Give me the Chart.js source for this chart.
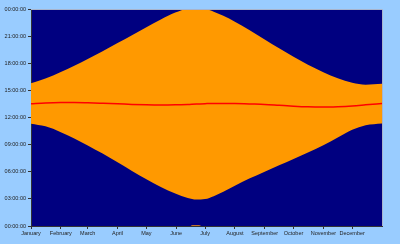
<!DOCTYPE html>
<html>
<head>
<meta charset="utf-8">
<script src="https://cdn.jsdelivr.net/npm/chart.js@4/dist/chart.umd.min.js"></script>
<style>
    html, body { margin: 0; padding: 0; background: #99ccff; }
    #wrap { width: 400px; height: 244px; }
</style>
</head>
<body>
<div id="wrap"><canvas id="sunChart"></canvas></div>
<script>
// Month labels and the day of year each month starts on
const months = ['January', 'February', 'March', 'April', 'May', 'June',
    'July', 'August', 'September', 'October', 'November', 'December'];
const monthStarts = [0, 31, 59, 90, 120, 151, 181, 212, 243, 273, 304, 334];

// Hours shown on the y axis
const hourTicks = [0, 3, 6, 9, 12, 15, 18, 21, 24];

// Day of year for each reading
const days = [0, 15, 31, 45, 59, 74, 90, 105, 120, 135, 150, 163, 172, 181,
    190, 200, 212, 227, 243, 258, 273, 288, 304, 319, 334, 348, 365];

// Sunrise, sunset and solar noon, in hours
const sunrise = [11.32, 11.02, 10.38, 9.68, 8.91, 8.04, 7.05, 6.09, 5.16, 4.32, 3.6, 3.1, 2.92, 2.98,
    3.3, 3.8, 4.46, 5.24, 6.01, 6.72, 7.42, 8.14, 8.94, 9.8, 10.65, 11.15, 11.35];
const sunset = [15.78, 16.3, 17.02, 17.72, 18.46, 19.3, 20.23, 21.11, 21.99, 22.85, 23.6, 24, 24, 24,
    23.7, 23.25, 22.6, 21.67, 20.63, 19.66, 18.71, 17.84, 17.01, 16.33, 15.85, 15.63, 15.72];
const noon = [13.52, 13.6, 13.65, 13.66, 13.63, 13.58, 13.52, 13.45, 13.4, 13.38, 13.4, 13.45, 13.5, 13.53,
    13.55, 13.55, 13.55, 13.5, 13.45, 13.35, 13.25, 13.18, 13.16, 13.2, 13.28, 13.4, 13.55];

// Sunset past midnight (shows as a sliver at the bottom)
const lateDays = [166, 168, 172, 175, 177];
const lateSunset = [0, 0.1, 0.12, 0.1, 0];

function toPoints(xs, ys) {
    return xs.map((x, i) => ({ x: x, y: ys[i] }));
}

function pad2(n) {
    return String(n).padStart(2, '0');
}

// Navy plot area plus light top/right border
const plotBackground = {
    id: 'plotBackground',
    beforeDraw(chart) {
        const { ctx, chartArea: a } = chart;
        ctx.save();
        ctx.fillStyle = '#000080';
        ctx.fillRect(a.left, a.top, a.right - a.left, a.bottom - a.top);
        ctx.restore();
    },
    afterDraw(chart) {
        const { ctx, chartArea: a } = chart;
        ctx.save();
        ctx.strokeStyle = '#a8b4cc';
        ctx.lineWidth = 1;
        ctx.beginPath();
        ctx.moveTo(a.left, a.top + 0.5);
        ctx.lineTo(a.right + 0.5, a.top + 0.5);
        ctx.lineTo(a.right + 0.5, a.bottom);
        ctx.stroke();
        ctx.restore();
    }
};

const tickFont = { family: 'Liberation Sans, Arial, sans-serif', size: 5.5 };

new Chart(document.getElementById('sunChart'), {
    type: 'line',
    data: {
        datasets: [
            {
                label: 'Sunrise',
                data: toPoints(days, sunrise),
                borderWidth: 0,
                borderColor: 'rgba(0,0,0,0)',
                pointRadius: 0,
                fill: false,
                order: 3
            },
            {
                label: 'Sunset',
                data: toPoints(days, sunset),
                borderWidth: 0,
                borderColor: 'rgba(0,0,0,0)',
                backgroundColor: '#ff9900',
                pointRadius: 0,
                fill: '-1',
                order: 2
            },
            {
                label: 'Solar noon',
                data: toPoints(days, noon),
                borderWidth: 1.5,
                borderColor: '#ff0000',
                pointRadius: 0,
                fill: false,
                order: 0
            },
            {
                label: 'Sunset after midnight',
                data: toPoints(lateDays, lateSunset),
                borderWidth: 0,
                borderColor: 'rgba(0,0,0,0)',
                backgroundColor: '#c0702c',
                pointRadius: 0,
                fill: 'origin',
                order: 1
            }
        ]
    },
    options: {
        responsive: true,
        maintainAspectRatio: false,
        animation: false,
        elements: { line: { cubicInterpolationMode: 'monotone' } },
        layout: { padding: { top: 9, right: 18, left: 0, bottom: 0 } },
        plugins: {
            legend: { display: false },
            tooltip: { enabled: false }
        },
        scales: {
            x: {
                type: 'linear',
                min: 0,
                max: 365,
                afterBuildTicks: (scale) => {
                    scale.ticks = monthStarts.map(v => ({ value: v }));
                },
                afterFit: (scale) => { scale.height = 18; },
                ticks: {
                    autoSkip: false,
                    maxRotation: 0,
                    padding: 1,
                    color: '#222',
                    font: tickFont,
                    callback: (v) => months[monthStarts.indexOf(v)]
                },
                grid: { drawOnChartArea: false, tickLength: 3, color: '#333' },
                border: { color: '#333' }
            },
            y: {
                min: 0,
                max: 24,
                afterBuildTicks: (scale) => {
                    scale.ticks = hourTicks.map(v => ({ value: v }));
                },
                afterFit: (scale) => { scale.width = 31; },
                ticks: {
                    padding: 2,
                    color: '#222',
                    font: tickFont,
                    callback: (v) => pad2(v % 24) + ':00:00'
                },
                grid: { drawOnChartArea: false, tickLength: 3, color: '#333' },
                border: { color: '#333' }
            }
        }
    },
    plugins: [plotBackground]
});
</script>
</body>
</html>
